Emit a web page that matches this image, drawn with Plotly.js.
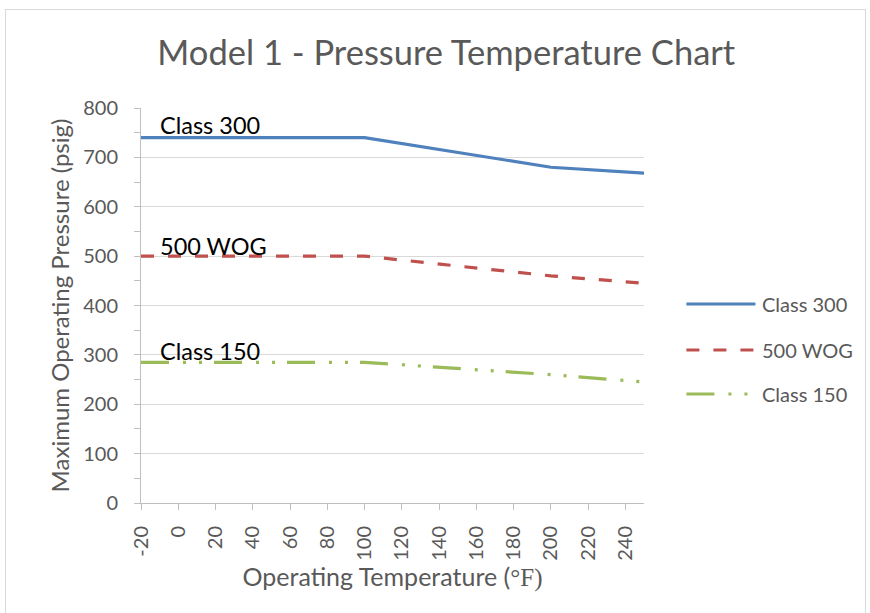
<!DOCTYPE html>
<html>
<head>
<meta charset="utf-8">
<script src="https://cdn.plot.ly/plotly-3.0.1.min.js"></script>
<style>
  html, body { margin: 0; padding: 0; background: #fff; }
  #wrap { position: relative; width: 870px; height: 613px; }
  #chart { position: absolute; left: 0; top: 0; width: 870px; height: 613px; }
  #frame { position: absolute; left: 5px; top: 9px; width: 859px; height: 620px; border: 1px solid #D9D9D9; pointer-events: none; }
</style>
</head>
<body>
<div id="wrap"><div id="chart"></div><div id="frame"></div></div>
<script>
// Data
const class300Temp = [-20, 100, 200, 250];
const class300Press = [740, 740, 680, 668];
const wogTemp = [-20, 100, 200, 250];
const wogPress = [500, 500, 460, 445];
const class150Temp = [-20, 100, 200, 250];
const class150Press = [285, 285, 260, 245];
const seriesNames = ['Class 300', '500 WOG', 'Class 150'];
const xTickVals = [-20, 0, 20, 40, 60, 80, 100, 120, 140, 160, 180, 200, 220, 240];
const yTickVals = [0, 100, 200, 300, 400, 500, 600, 700, 800];

const FONT = 'Lato, Open Sans, sans-serif';
const GRAY = '#595959';
const colors = ['#4F81BD', '#C0504D', '#9BBB59'];
const dashes = ['solid', '13px,14px', '28px,14px,3px,13px,3px,12px'];

const traces = [
  {x: class300Temp, y: class300Press, name: seriesNames[0]},
  {x: wogTemp, y: wogPress, name: seriesNames[1]},
  {x: class150Temp, y: class150Press, name: seriesNames[2]}
].map((t, i) => Object.assign(t, {
  type: 'scatter', mode: 'lines', showlegend: false, hoverinfo: 'skip',
  line: {color: colors[i], width: 3.2, dash: dashes[i]}
}));

// custom legend (long line samples like the reference)
const legY = [0.5038, 0.3873, 0.2759];
const shapes = legY.map((yy, i) => ({
  type: 'line', xref: 'paper', yref: 'paper', x0: 1.0843, x1: 1.2215, y0: yy, y1: yy,
  line: {color: colors[i], width: 3.2, dash: dashes[i]}
}));
const annotations = legY.map((yy, i) => ({
  xref: 'paper', yref: 'paper', x: 1.2300, y: yy, xanchor: 'left', yanchor: 'middle',
  text: seriesNames[i], showarrow: false, font: {family: FONT, size: 20, color: GRAY}
}));
// in-plot labels
const labelPos = [[-10.8, 766], [-10.8, 521], [-10.8, 308]];
labelPos.forEach((p, i) => annotations.push({
  x: p[0], y: p[1], xref: 'x', yref: 'y', xanchor: 'left', yanchor: 'middle',
  text: seriesNames[i], showarrow: false, font: {family: FONT, size: 23.5, color: '#000'}
}));

const layout = {
  width: 870, height: 613,
  margin: {l: 141, r: 226, t: 108, b: 110, pad: 0},
  paper_bgcolor: 'rgba(0,0,0,0)', plot_bgcolor: '#fff',
  font: {family: FONT, color: GRAY},
  title: {
    text: 'Model 1 - Pressure Temperature Chart',
    font: {family: FONT, size: 34.5, color: GRAY},
    xref: 'container', x: 0.513, xanchor: 'center',
    yref: 'container', y: 0.913, yanchor: 'middle'
  },
  xaxis: {
    range: [-20, 250], tickmode: 'array', tickvals: xTickVals, ticktext: xTickVals.map(String),
    tickangle: -90, ticks: 'outside', ticklen: 6, tickcolor: '#BFBFBF', tickwidth: 1,
    showline: true, linecolor: '#BFBFBF', linewidth: 1, showgrid: false, zeroline: false,
    ticklabelstandoff: 8,
    tickfont: {family: FONT, size: 20, color: GRAY},
    title: {text: 'Operating Temperature (<span style="font-family:Liberation Serif, serif">°F)</span>', font: {family: FONT, size: 25, color: GRAY}, standoff: 1}
  },
  yaxis: {
    range: [0, 800], tickmode: 'array', tickvals: yTickVals,
    ticks: 'outside', ticklen: 6, tickcolor: '#BFBFBF', tickwidth: 1,
    minor: {dtick: 50, ticks: 'outside', ticklen: 6, tickcolor: '#BFBFBF', showgrid: false},
    showline: true, linecolor: '#BFBFBF', linewidth: 1,
    showgrid: true, gridcolor: '#D9D9D9', gridwidth: 1, zeroline: false,
    ticklabelstandoff: 12,
    tickfont: {family: FONT, size: 20, color: GRAY},
    title: {text: 'Maximum Operating Pressure (psig)', font: {family: FONT, size: 24, color: GRAY}, standoff: 6}
  },
  shapes: shapes,
  annotations: annotations
};

Plotly.newPlot('chart', traces, layout, {displayModeBar: false, staticPlot: true});
</script>
</body>
</html>
